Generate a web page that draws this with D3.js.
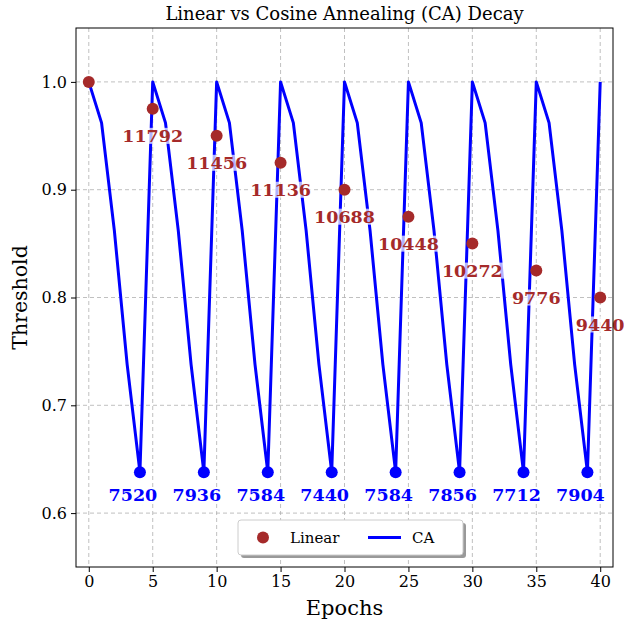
<!DOCTYPE html>
<html>
<head>
<meta charset="utf-8">
<script src="https://cdn.jsdelivr.net/npm/d3@7"></script>
<style>
  body { margin: 0; background: #fff; }
  text { font-family: "DejaVu Serif", serif; }
</style>
</head>
<body>
<div id="chart"></div>
<script>
// chart data
const epochs = d3.range(0, 41);
const caValues = [
  1.0, 0.962, 0.862, 0.738, 0.638,
  1.0, 0.962, 0.862, 0.738, 0.638,
  1.0, 0.962, 0.862, 0.738, 0.638,
  1.0, 0.962, 0.862, 0.738, 0.638,
  1.0, 0.962, 0.862, 0.738, 0.638,
  1.0, 0.962, 0.862, 0.738, 0.638,
  1.0, 0.962, 0.862, 0.738, 0.638,
  1.0, 0.962, 0.862, 0.738, 0.638,
  1.0
];
const linearEpochs = [0, 5, 10, 15, 20, 25, 30, 35, 40];
const linearValues = [1.0, 0.975, 0.95, 0.925, 0.9, 0.875, 0.85, 0.825, 0.8];
const linearLabels = ["", "11792", "11456", "11136", "10688", "10448", "10272", "9776", "9440"];
const caMinEpochs = [4, 9, 14, 19, 24, 29, 34, 39];
const caMinLabels = ["7520", "7936", "7584", "7440", "7584", "7856", "7712", "7904"];
const xTicks = [0, 5, 10, 15, 20, 25, 30, 35, 40];
const yTicks = [0.6, 0.7, 0.8, 0.9, 1.0];

const width = 624, height = 621;
const margin = {left: 76, right: 11, top: 28, bottom: 54};

const svg = d3.select("#chart").append("svg")
  .attr("width", width).attr("height", height);

const x = d3.scaleLinear().domain([-1, 41]).range([margin.left, width - margin.right]);
const y = d3.scaleLinear().domain([0.55, 1.05]).range([height - margin.bottom, margin.top]);

// grid
svg.append("g").selectAll("line").data(xTicks).join("line")
  .attr("x1", d => x(d)).attr("x2", d => x(d))
  .attr("y1", margin.top).attr("y2", height - margin.bottom)
  .attr("stroke", "#b0b0b0").attr("stroke-dasharray", "4,3").attr("stroke-width", 0.8);
svg.append("g").selectAll("line").data(yTicks).join("line")
  .attr("x1", margin.left).attr("x2", width - margin.right)
  .attr("y1", d => y(d)).attr("y2", d => y(d))
  .attr("stroke", "#b0b0b0").attr("stroke-dasharray", "4,3").attr("stroke-width", 0.8);

// CA line
const line = d3.line().x((d, i) => x(epochs[i])).y(d => y(d));
svg.append("path").datum(caValues)
  .attr("d", line).attr("fill", "none")
  .attr("stroke", "#0000ff").attr("stroke-width", 3).attr("stroke-linejoin", "round");

// CA minimum points
svg.append("g").selectAll("circle").data(caMinEpochs).join("circle")
  .attr("cx", d => x(d)).attr("cy", d => y(caValues[d])).attr("r", 6)
  .attr("fill", "#0000ff");

// linear points
svg.append("g").selectAll("circle").data(linearEpochs).join("circle")
  .attr("cx", d => x(d)).attr("cy", (d, i) => y(linearValues[i])).attr("r", 6)
  .attr("fill", "#a52a2a");

// labels with semi-transparent background
function addLabel(g, tx, ty, txt, color) {
  const t = g.append("text")
    .attr("x", tx).attr("y", ty)
    .attr("text-anchor", "middle").attr("dominant-baseline", "central")
    .attr("font-weight", "bold").attr("font-size", 17.5)
    .attr("fill", color).text(txt);
  const b = t.node().getBBox();
  g.insert("rect", "text")
    .attr("x", b.x - 2).attr("y", b.y + 2)
    .attr("width", b.width + 4).attr("height", b.height - 4)
    .attr("fill", "white").attr("opacity", 0.7);
}
const labG = svg.append("g");
linearEpochs.forEach((e, i) => {
  if (linearLabels[i]) {
    const g = labG.append("g");
    addLabel(g, x(e), y(linearValues[i]) + 27, linearLabels[i], "#a52a2a");
  }
});
caMinEpochs.forEach((e, i) => {
  const g = labG.append("g");
  addLabel(g, x(e) - 7, y(caValues[e]) + 23, caMinLabels[i], "#0000ff");
});

// axes
const xAxis = svg.append("g")
  .attr("transform", `translate(0,${height - margin.bottom})`)
  .call(d3.axisBottom(x).tickValues(xTicks).tickSizeOuter(0).tickSize(5).tickPadding(4));
const yAxis = svg.append("g")
  .attr("transform", `translate(${margin.left},0)`)
  .call(d3.axisLeft(y).tickValues(yTicks).tickFormat(d3.format(".1f")).tickSizeOuter(0).tickSize(5).tickPadding(4));
[xAxis, yAxis].forEach(a => {
  a.selectAll("text").attr("font-size", 16).attr("font-family", "DejaVu Serif").attr("fill", "#000");
  a.select(".domain").remove();
  a.selectAll(".tick line").attr("stroke", "#000");
});

// frame
svg.append("rect")
  .attr("x", margin.left).attr("y", margin.top)
  .attr("width", width - margin.left - margin.right)
  .attr("height", height - margin.top - margin.bottom)
  .attr("fill", "none").attr("stroke", "#000").attr("stroke-width", 1);

// title and axis labels
svg.append("text").attr("x", (margin.left + width - margin.right) / 2).attr("y", 20)
  .attr("text-anchor", "middle").attr("font-size", 18)
  .text("Linear vs Cosine Annealing (CA) Decay");
svg.append("text").attr("x", (margin.left + width - margin.right) / 2).attr("y", 615)
  .attr("text-anchor", "middle").attr("font-size", 21).text("Epochs");
svg.append("text")
  .attr("transform", `translate(27,${(margin.top + height - margin.bottom) / 2}) rotate(-90)`)
  .attr("text-anchor", "middle").attr("font-size", 20.5).text("Threshold");

// legend
const lg = svg.append("g").attr("transform", "translate(238,520)");
lg.append("rect").attr("x", 3).attr("y", 3).attr("width", 225).attr("height", 35)
  .attr("rx", 3).attr("fill", "#999");
lg.append("rect").attr("width", 225).attr("height", 35)
  .attr("rx", 3).attr("fill", "white").attr("stroke", "#ccc");
lg.append("circle").attr("cx", 25).attr("cy", 17.5).attr("r", 6).attr("fill", "#a52a2a");
lg.append("text").attr("x", 52).attr("y", 17.5).attr("dominant-baseline", "central")
  .attr("font-size", 15).text("Linear");
lg.append("line").attr("x1", 130).attr("x2", 163).attr("y1", 17.5).attr("y2", 17.5)
  .attr("stroke", "#0000ff").attr("stroke-width", 3);
lg.append("text").attr("x", 174).attr("y", 17.5).attr("dominant-baseline", "central")
  .attr("font-size", 15).text("CA");
</script>
</body>
</html>
